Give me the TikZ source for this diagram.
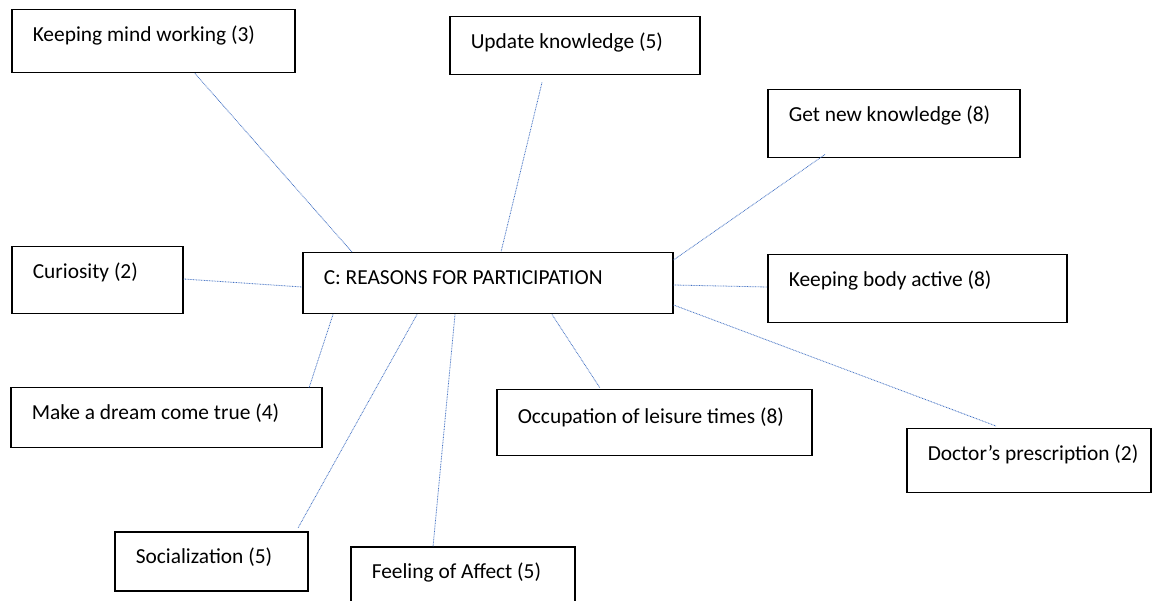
\documentclass[tikz,border=0pt]{standalone}
\usepackage{fontspec}
\setmainfont{Carlito}
\usetikzlibrary{calc}
\definecolor{lnkblue}{RGB}{68,114,196}
\newcommand\bxt[2]{\hbox to #1{\hspace{21pt}#2\hss}}
\begin{document}
\begin{tikzpicture}[x=1pt,y=-1pt,
  rbox/.style={draw=black, line width=1.5pt, anchor=north west, inner sep=0pt,
    text height=32pt, font=\fontsize{21.4}{25}\selectfont, fill=white},
  lnk/.style={draw=lnkblue, line width=0.8pt, dash pattern=on 0.8pt off 0.8pt}]
\useasboundingbox (0,0) rectangle (1152,601);
\clip (0,0) rectangle (1152,601);
\fill[white] (0,0) rectangle (1152,601);
\node[rbox, text depth=31pt] (km) at (11,9)   {\bxt{283pt}{Keeping mind working (3)}};
\node[rbox, text depth=26pt] (uk) at (449,16) {\bxt{250pt}{Update knowledge (5)}};
\node[rbox, text depth=36pt] (gn) at (767,89) {\bxt{252pt}{Get new knowledge (8)}};
\node[rbox, text depth=35pt] (cu) at (11,246) {\bxt{171pt}{Curiosity (2)}};
\node[rbox, text depth=29pt] (ce) at (302,252) {\bxt{370pt}{C: REASONS FOR PARTICIPATION}};
\node[rbox, text depth=36pt] (kb) at (767,254) {\bxt{299pt}{Keeping body active (8)}};
\node[rbox, text depth=28pt] (md) at (10,387) {\bxt{311pt}{Make a dream come true (4)}};
\node[rbox, text depth=32pt, text height=34pt] (oc) at (496,389) {\bxt{315pt}{Occupation of leisure times (8)}};
\node[rbox, text depth=32pt] (dp) at (906,428) {\bxt{244pt}{Doctor’s prescription (2)}};
\node[rbox, text depth=27pt] (so) at (114,531) {\bxt{193pt}{Socialization (5)}};
\node[rbox, text depth=40pt] (fa) at (350,546) {\bxt{224pt}{Feeling of Affect (5)}};
\draw[lnk] ($(km.south west)+(184,0)$) -- ($(ce.north west)+(50,0)$);
\draw[lnk] ($(uk.south west)+(93,7)$) -- ($(ce.north west)+(199,0)$);
\draw[lnk] ($(gn.south west)+(58,-4)$) -- ($(ce.north east)+(0,8)$);
\draw[lnk] ($(cu.north east)+(0,33)$) -- ($(ce.north west)+(0,35)$);
\draw[lnk] ($(ce.north east)+(0,33)$) -- ($(kb.north west)+(0,33)$);
\draw[lnk] ($(ce.north east)+(0,53)$) -- ($(dp.north west)+(90,-2)$);
\draw[lnk] ($(ce.south west)+(250,0)$) -- ($(oc.north west)+(104,-1)$);
\draw[lnk] ($(ce.south west)+(31,0)$) -- ($(md.north west)+(299,1)$);
\draw[lnk] ($(ce.south west)+(115,0)$) -- ($(so.north west)+(184,-3)$);
\draw[lnk] ($(ce.south west)+(153,0)$) -- ($(fa.north west)+(83,1)$);
\end{tikzpicture}
\end{document}
